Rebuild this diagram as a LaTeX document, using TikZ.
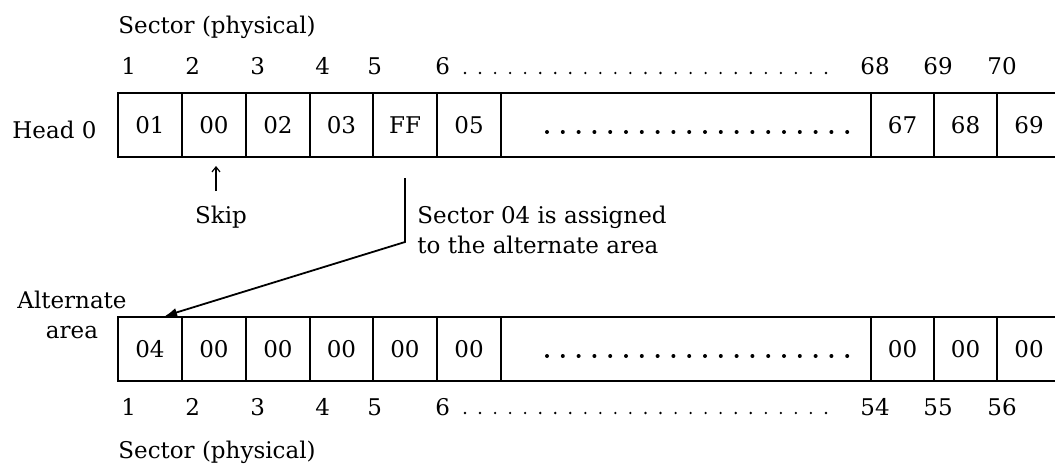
\documentclass[tikz,border=0pt]{standalone}
\usepackage{fontspec}
\setmainfont{DejaVu Serif}
\usepackage{tikz}
\usetikzlibrary{arrows.meta,calc}

\begin{document}
\begin{tikzpicture}[x=0.5pt,y=-0.5pt,
  txt/.style={font=\fontsize{11.5}{15}\selectfont,inner sep=0pt},
  cell/.style={draw,line width=1pt,minimum height=32pt,inner sep=0pt,font=\fontsize{11.5}{15}\selectfont},
  num/.style={txt,anchor=base west},
  ar/.style={-{Latex[length=6pt,width=4.5pt]},line width=0.9pt},
  thinar/.style={-{Straight Barb[length=2.5pt,width=4pt]},line width=0.6pt},
]
\clip (0,0) rectangle (1055,465);

% head 0 track
\node[txt,anchor=base west] (sectop) at (118,34) {Sector (physical)};
\foreach \x/\n [count=\i] in {121/1,185/2,250/3,315/4,367/5,435/6,860/68,923/69,987/70}
  \node[num] (n\i) at (\x,75) {\n};
\foreach \k in {0,...,24} \fill (465+\k*15.04,73) circle (0.65pt);

\node[txt,anchor=base west] (head) at (12,139) {Head 0};
\foreach \xa/\xb/\val [count=\i] in {118/182/01,182/246/00,246/310/02,310/373/03,373/437/FF,437/501/05,501/871/{},871/934/67,934/997/68,997/1061/69}{
  \pgfmathsetmacro\w{(\xb-\xa)/2}
  \node[cell,minimum width=\w pt] (t\i) at ({(\xa+\xb)/2},125) {\val};
}
\foreach \k in {0,...,19} \fill (547+\k*15.8,132) circle (1pt);

% skip mark
\node[txt,anchor=base] (skip) at (221,223) {Skip};
\draw[thinar,shorten <=7pt,shorten >=4pt] ([xshift=-2.5pt]skip.north) -- ([xshift=-2.5pt]skip.north |- t2.south);

% alternate area
\node[txt,align=center,anchor=north] (alt) at (72,291) {Alternate\\area};
\foreach \xa/\xb/\val [count=\i] in {118/182/04,182/246/00,246/310/00,310/373/00,373/437/00,437/501/00,501/871/{},871/934/00,934/997/00,997/1061/00}{
  \pgfmathsetmacro\w{(\xb-\xa)/2}
  \node[cell,minimum width=\w pt] (b\i) at ({(\xa+\xb)/2},349) {\val};
}
\foreach \k in {0,...,19} \fill (547+\k*15.8,356) circle (1pt);

\foreach \x/\n [count=\i] in {121/1,185/2,250/3,315/4,367/5,435/6,860/54,923/55,987/56}
  \node[num] (m\i) at (\x,415) {\n};
\foreach \k in {0,...,24} \fill (465+\k*15.04,413) circle (0.65pt);
\node[txt,anchor=base west] (secbot) at (118,458) {Sector (physical)};

% FF -> 04 reassignment
\node[txt,align=left,anchor=north west] (note) at (417,206) {Sector 04 is assigned\\to the alternate area};
\coordinate (ffmark) at ($(t5.south)+(0,20)$);
\coordinate (bend) at ($(t5.south)+(0,84)$);
\coordinate (tip) at ($(b1.north)+(15,0)$);
\draw[ar] (ffmark) -- (bend) -- (tip);
\end{tikzpicture}
\end{document}
